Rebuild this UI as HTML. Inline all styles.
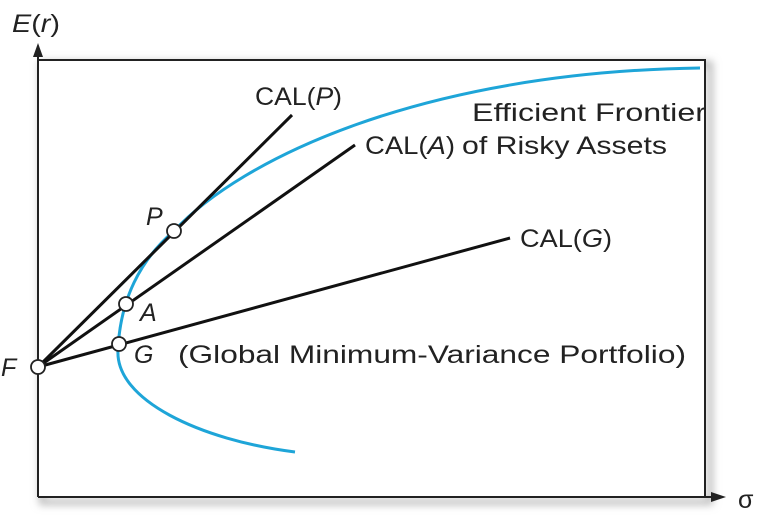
<!DOCTYPE html>
<html><head><style>body{margin:0;background:#fff}svg{display:block}</style></head><body>
<svg width="765" height="520" viewBox="0 0 765 520" xmlns="http://www.w3.org/2000/svg" font-family="Liberation Sans, sans-serif" font-size="25" fill="#222">
<defs><filter id="s" x="-5%" y="-5%" width="115%" height="115%"><feGaussianBlur stdDeviation="4"/></filter></defs>
<rect x="42" y="64" width="668" height="438" fill="none" stroke="#bbb" stroke-width="6" filter="url(#s)"/>
<rect x="38" y="60" width="667" height="437" fill="#fff" stroke="none"/>
<path d="M38,60 H705 V497" fill="none" stroke="#222" stroke-width="2"/>
<line x1="38" y1="497" x2="715" y2="497" stroke="#222" stroke-width="2"/>
<line x1="38" y1="497" x2="38" y2="55" stroke="#222" stroke-width="2"/>
<polygon points="38,43 33,57 43,57" fill="#222"/>
<polygon points="726,497 711,492 711,502" fill="#222"/>
<path d="M295,452 C200,440 115,400 118,350 C120,300 140,260 174,231 C240,160 420,72 700,68" fill="none" stroke="#1ea5d8" stroke-width="3"/>
<g stroke="#111" stroke-width="3">
<line x1="38" y1="367" x2="292" y2="115"/>
<line x1="38" y1="367" x2="355" y2="145"/>
<line x1="38" y1="367" x2="510" y2="238"/>
</g>
<g fill="#fff" stroke="#222" stroke-width="1.8">
<circle cx="38" cy="367" r="7"/><circle cx="174" cy="231" r="7"/><circle cx="126" cy="304" r="7"/><circle cx="119" cy="344" r="7"/>
</g>
<text x="12" y="32" textLength="48" lengthAdjust="spacingAndGlyphs"><tspan font-style="italic">E</tspan>(<tspan font-style="italic">r</tspan>)</text>
<text x="255" y="105" textLength="87" lengthAdjust="spacingAndGlyphs">CAL(<tspan font-style="italic">P</tspan>)</text>
<text x="365" y="154" textLength="90" lengthAdjust="spacingAndGlyphs">CAL(<tspan font-style="italic">A</tspan>)</text>
<text x="472" y="121" textLength="234" lengthAdjust="spacingAndGlyphs">Efficient Frontier</text>
<text x="462" y="154" textLength="205" lengthAdjust="spacingAndGlyphs">of Risky Assets</text>
<text x="520" y="247" textLength="92" lengthAdjust="spacingAndGlyphs">CAL(<tspan font-style="italic">G</tspan>)</text>
<text x="146" y="225" font-style="italic">P</text>
<text x="140" y="321" font-style="italic">A</text>
<text x="134" y="363" font-style="italic">G</text>
<text x="178" y="363" textLength="508" lengthAdjust="spacingAndGlyphs">(Global Minimum-Variance Portfolio)</text>
<text x="1" y="376" font-style="italic">F</text>
<text x="738" y="508">σ</text>
</svg>
</body></html>
